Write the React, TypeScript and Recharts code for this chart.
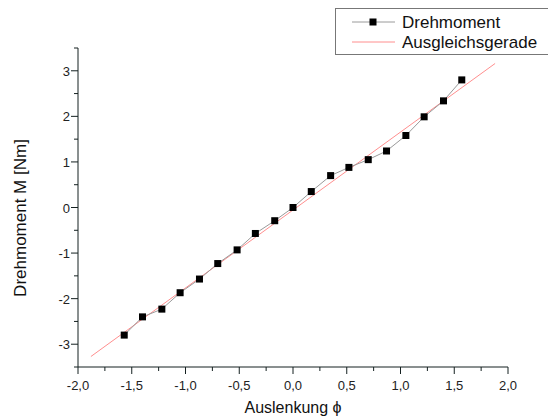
import React from 'react';
import { ComposedChart, Line, XAxis, YAxis, Legend } from 'recharts';

// Auslenkung (rad) und gemessenes Drehmoment (Nm)
const angles = [-1.57, -1.40, -1.22, -1.05, -0.87, -0.70, -0.52, -0.35, -0.17, 0, 0.17, 0.35, 0.52, 0.70, 0.87, 1.05, 1.22, 1.40, 1.57];
const torque = [-2.80, -2.40, -2.23, -1.87, -1.57, -1.23, -0.93, -0.57, -0.29, 0.0, 0.35, 0.70, 0.88, 1.05, 1.24, 1.58, 1.99, 2.34, 2.80];

// Ausgleichsgerade endpoints
const fitX = [-1.88, 1.88];
const fitY = [-3.27, 3.16];

const xTicks = [-2, -1.75, -1.5, -1.25, -1, -0.75, -0.5, -0.25, 0, 0.25, 0.5, 0.75, 1, 1.25, 1.5, 1.75, 2];
const yTicks = [-3.5, -3, -2.5, -2, -1.5, -1, -0.5, 0, 0.5, 1, 1.5, 2, 2.5, 3, 3.5];

const measured = angles.map((x, i) => ({ x, y: torque[i] }));
const fitLine = fitX.map((x, i) => ({ x, y: fitY[i] }));

const FONT = '"Liberation Sans", Arial, sans-serif';
const AXIS = '#142020';
const RED = '#ff8e8e';
const GRAY = '#9a9a9a';

const isMajorX = (v: number) => Math.abs(v * 2 - Math.round(v * 2)) < 1e-6;

const XTick = (props: any) => {
  const { x, y, payload } = props;
  const v = payload.value as number;
  const major = isMajorX(v);
  return (
    <g>
      <line x1={x} y1={y} x2={x} y2={y + (major ? 7 : 4)} stroke={AXIS} strokeWidth={1} />
      {major && (
        <text x={x} y={y + 23} textAnchor="middle" fontSize={13} fontFamily={FONT} fill="#222">
          {v.toFixed(1).replace('.', ',')}
        </text>
      )}
    </g>
  );
};

const YTick = (props: any) => {
  const { x, y, payload } = props;
  const v = payload.value as number;
  const major = Number.isInteger(v);
  return (
    <g>
      <line x1={x - (major ? 7 : 4)} y1={y} x2={x} y2={y} stroke={AXIS} strokeWidth={1} />
      {major && (
        <text x={x - 8} y={y + 5} textAnchor="end" fontSize={13} fontFamily={FONT} fill="#222">
          {String(v)}
        </text>
      )}
    </g>
  );
};

const SquareDot = (props: any) => {
  const { cx, cy } = props;
  if (cx == null || cy == null) return null;
  return <rect x={cx - 3.5} y={cy - 3.5} width={7} height={7} fill="#000" />;
};

const LegendBox = () => (
  <svg width={215} height={48} style={{ display: 'block' }}>
    <rect x={0.5} y={0.5} width={220} height={46} fill="#fff" stroke="#777" />
    <line x1={17} y1={14} x2={60} y2={14} stroke={GRAY} strokeWidth={1} />
    <rect x={34.5} y={10.5} width={7} height={7} fill="#000" />
    <text x={67} y={20} fontSize={17} fontFamily={FONT} fill="#111">Drehmoment</text>
    <line x1={17} y1={34} x2={60} y2={34} stroke={RED} strokeWidth={1} />
    <text x={67} y={40} fontSize={17} fontFamily={FONT} fill="#111">Ausgleichsgerade</text>
  </svg>
);

export default function App() {
  return (
    <div style={{ position: 'absolute', left: 0, top: 0, background: '#fff' }}>
      <ComposedChart width={548} height={419} margin={{ top: 48, right: 40, bottom: 0, left: 0 }}>
        <XAxis
          type="number"
          dataKey="x"
          domain={[-2, 2]}
          ticks={xTicks}
          interval={0}
          height={52}
          tickSize={0}
          tickMargin={0}
          tickLine={false}
          tick={<XTick />}
          axisLine={{ stroke: AXIS }}
          allowDataOverflow
          label={{
            content: () => (
              <text x={293} y={413} textAnchor="middle" fontSize={16} fontFamily={FONT} fill="#111">
                Auslenkung ϕ
              </text>
            ),
          }}
        />
        <YAxis
          type="number"
          dataKey="y"
          domain={[-3.5, 3.5]}
          ticks={yTicks}
          interval={0}
          width={78}
          tickSize={0}
          tickMargin={0}
          tickLine={false}
          tick={<YTick />}
          axisLine={{ stroke: AXIS }}
          allowDataOverflow
          label={{
            content: () => (
              <text
                x={26}
                y={218}
                transform="rotate(-90 26 218)"
                textAnchor="middle"
                fontSize={17}
                fontFamily={FONT}
                fill="#111"
              >
                Drehmoment M [Nm]
              </text>
            ),
          }}
        />
        <Legend
          layout="vertical"
          align="center"
          verticalAlign="middle"
          wrapperStyle={{ top: 8, left: 335, width: 215, height: 48 }}
          content={() => <LegendBox />}
        />
        <Line
          data={fitLine}
          dataKey="y"
          name="Ausgleichsgerade"
          type="linear"
          stroke={RED}
          strokeWidth={1}
          dot={false}
          activeDot={false}
          isAnimationActive={false}
        />
        <Line
          data={measured}
          dataKey="y"
          name="Drehmoment"
          type="linear"
          stroke={GRAY}
          strokeWidth={1}
          dot={<SquareDot />}
          activeDot={false}
          isAnimationActive={false}
        />
      </ComposedChart>
    </div>
  );
}
